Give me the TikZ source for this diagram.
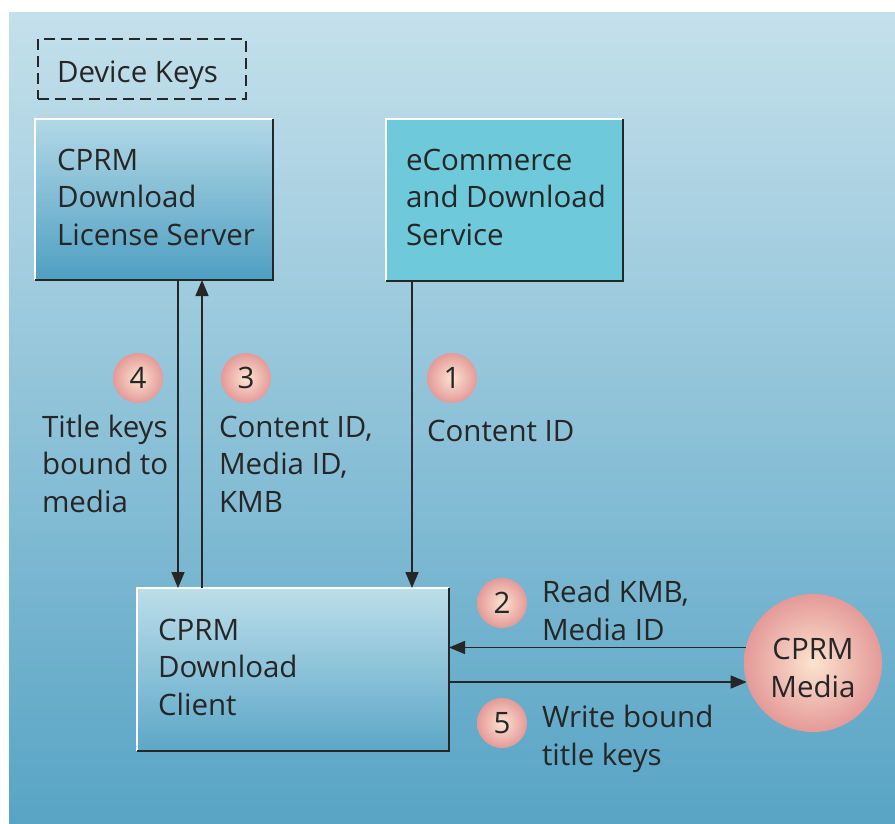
\documentclass[tikz,border=0pt]{standalone}
\usepackage{fontspec}
\setmainfont{Open Sans}
\usetikzlibrary{arrows.meta,shapes.geometric}

\definecolor{bgtop}{HTML}{C4E0EB}
\definecolor{bgbot}{HTML}{58A4C5}
\definecolor{srvtop}{HTML}{B2D8E6}
\definecolor{srvbot}{HTML}{4E9FC2}
\definecolor{shop}{HTML}{6ECADB}
\definecolor{clitop}{HTML}{BCDEEA}
\definecolor{clibot}{HTML}{5CA7C7}
\definecolor{pinkin}{HTML}{FCE3D0}
\definecolor{pinkout}{HTML}{E49A98}
\definecolor{ink}{HTML}{262626}

\tikzset{
  % multi-line labels: the base anchor sits on the LAST line's baseline
  lbl/.style={font=\fontsize{29.5}{37.5}\selectfont, text=ink, inner sep=0pt, outer sep=0pt, align=left, anchor=base west},
  boxbase/.style={inner sep=0pt, outer sep=0pt},
  badge/.style={circle, minimum size=50pt, inner sep=0pt, outer sep=0pt,
    shading=radial, inner color=pinkin, outer color=pinkout,
    font=\fontsize{29.5}{37.5}\selectfont, text=ink},
  flow/.style={draw=ink, line width=1.5pt, -{Triangle[length=16pt,width=13pt]}},
}

\newcommand{\bevel}[1]{%
  \draw[white, line width=1.2pt] (#1.south west) -- (#1.north west) -- (#1.north east);
  \draw[ink, line width=1.5pt] (#1.north east) -- (#1.south east) -- (#1.south west);
}

\begin{document}
\begin{tikzpicture}[x=1pt,y=-1pt]
\useasboundingbox (0,0) rectangle (895,823);
% page background
\fill[white] (0,0) rectangle (895,823);
\shade[top color=bgtop, bottom color=bgbot] (9,12) rectangle (895,823);

% key store (dashed)
\node[draw=ink, dash pattern=on 11pt off 6pt, line width=1.4pt, boxbase,
      minimum width=208pt, minimum height=60pt, anchor=north west] (keys) at (38,39) {};
\node[lbl] (keystxt) at (57,82) {Device Keys};

% license server
\node[boxbase, minimum width=238pt, minimum height=161pt, anchor=north west,
      top color=srvtop, bottom color=srvbot] (lic) at (35,119) {};
\bevel{lic}
\node[lbl] (lictxt) at (57,245) {CPRM\\Download\\License Server};

% shop / download service
\node[boxbase, minimum width=237pt, minimum height=162pt, anchor=north west,
      fill=shop] (shop) at (386,119) {};
\bevel{shop}
\node[lbl] (shoptxt) at (406,245) {eCommerce\\and Download\\Service};

% download client
\node[boxbase, minimum width=312pt, minimum height=163pt, anchor=north west,
      top color=clitop, bottom color=clibot] (cli) at (137,588) {};
\bevel{cli}
\node[lbl] (clitxt) at (158,715) {CPRM\\Download\\Client};

% media
\node[circle, minimum size=138pt, inner sep=0pt, outer sep=0pt,
      shading=radial, inner color=pinkin, outer color=pinkout] (med) at (813,663) {};
\node[lbl, align=center, anchor=base] (medtxt) at (813,697) {CPRM\\Media};

% connectors
\draw[flow] ([xshift=143pt]lic.south west) -- ([xshift=143pt]lic.south west |- cli.north);
\draw[flow] ([xshift=65pt]cli.north west) -- ([xshift=65pt]cli.north west |- lic.south);
\draw[flow] ([xshift=26pt]shop.south west) -- ([xshift=26pt]shop.south west |- cli.north);
\draw[flow] (med.167.4) -- (med.167.4 -| cli.east);
\draw[flow] (med.196 -| cli.east) -- (med.196);

% step badges
\node[badge] (b4) at (138,378) {4};
\node[badge] (b3) at (246,378) {3};
\node[badge] (b1) at (452,378) {1};
\node[badge] (b2) at (502,603) {2};
\node[badge] (b5) at (502,723) {5};

% message labels
\node[lbl] (m4) at (42,512) {Title keys\\bound to\\media};
\node[lbl] (m3) at (219,512) {Content ID,\\Media ID,\\KMB};
\node[lbl] (m1) at (427,441) {Content ID};
\node[lbl] (m2) at (542,640) {Read KMB,\\Media ID};
\node[lbl] (m5) at (542,765) {Write bound\\title keys};
\end{tikzpicture}
\end{document}
